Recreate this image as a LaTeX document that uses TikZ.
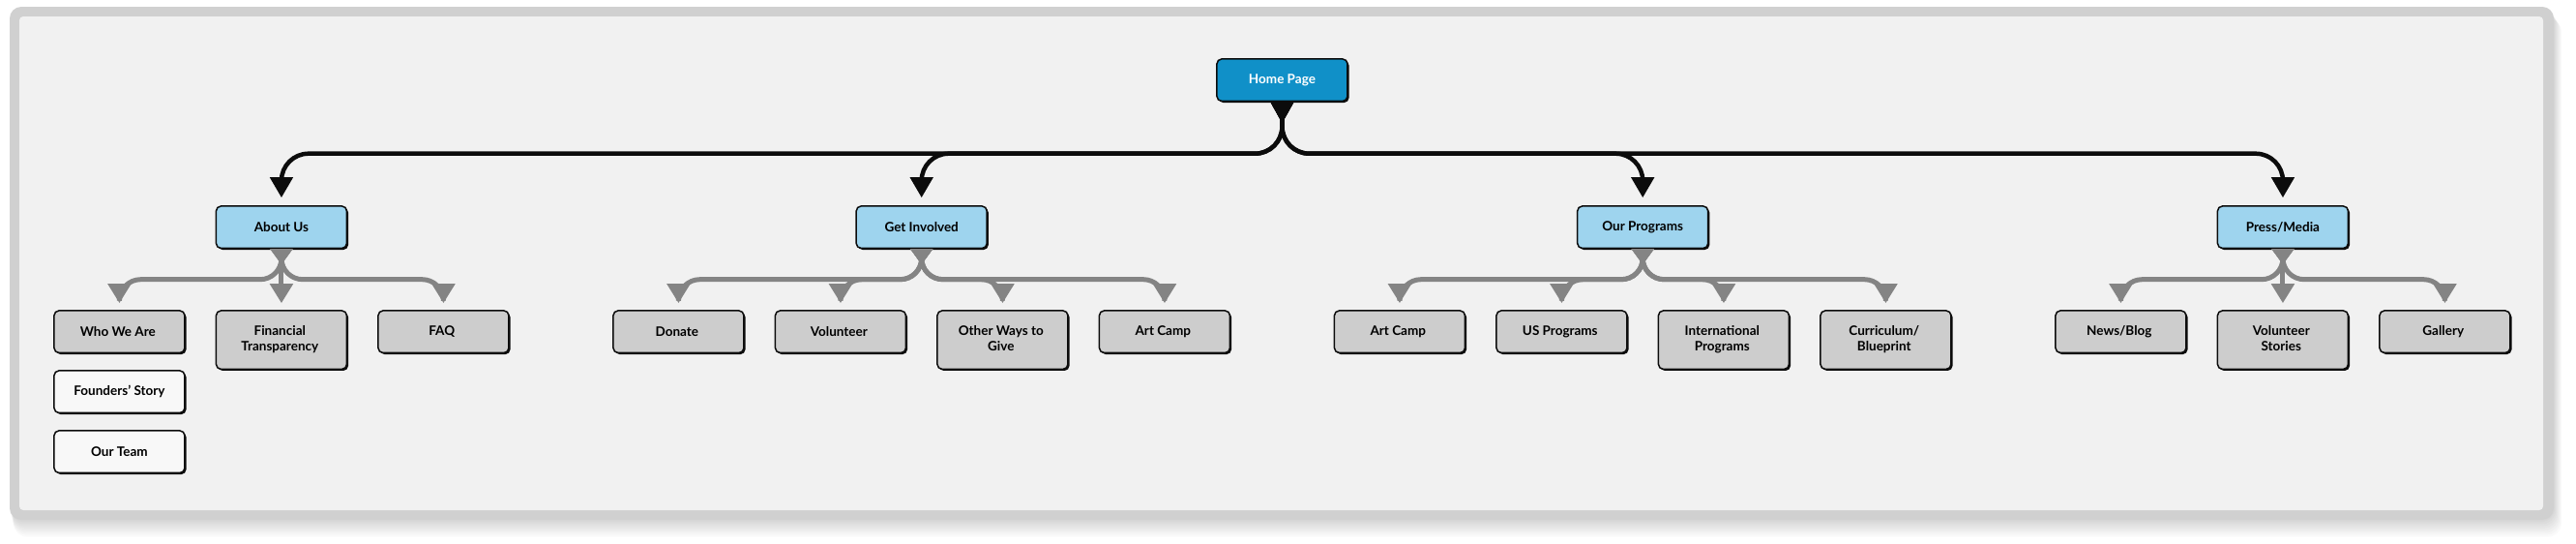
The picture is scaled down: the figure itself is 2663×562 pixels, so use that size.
\documentclass[tikz,border=0pt]{standalone}
\usepackage{fontspec}
\setmainfont{Lato}
\usetikzlibrary{matrix,arrows.meta,positioning,calc,shadows}

\definecolor{framegray}{RGB}{208,208,208}
\definecolor{paper}{RGB}{241,241,241}
\definecolor{homeblue}{RGB}{16,144,200}
\definecolor{sectionblue}{RGB}{158,212,238}
\definecolor{pagegray}{RGB}{205,205,205}
\definecolor{subpage}{RGB}{248,248,248}
\definecolor{linkgray}{RGB}{132,132,132}
\definecolor{linkblack}{RGB}{12,12,12}

\newcommand\twolines[2]{\begin{tabular}{@{}c@{}}#1\\#2\end{tabular}}

\tikzset{
  box/.style={draw=linkblack, line width=1.5pt, rounded corners=5pt, align=center,
    minimum width=135pt, minimum height=43.5pt, inner xsep=4pt, inner ysep=14.5pt,
    font=\fontsize{13.5}{15.7}\selectfont\bfseries,
    drop shadow={shadow xshift=1.6pt, shadow yshift=-1.6pt, opacity=1, fill=linkblack}},
  homebox/.style={box, fill=homeblue, text=white},
  sectionbox/.style={box, fill=sectionblue},
  pagebox/.style={box, fill=pagegray},
  subpagebox/.style={box, fill=subpage},
  tree/.style={to path={|- ($(\tikztostart)!.5!(\tikztotarget)$) -| (\tikztotarget)}},
  straight/.style={to path={-- (\tikztotarget)}},
  toplink/.style={color=linkblack, line width=4.5pt, rounded corners=28pt, shorten >=8pt,
    {Triangle[reversed,length=22pt,width=23pt]}-{Triangle[length=21pt,width=23pt]}},
  sublink/.style={color=linkgray, line width=5pt, rounded corners=22pt, shorten >=7pt,
    {Triangle[reversed,length=16pt,width=22pt]}-{Triangle[length=20pt,width=23pt]}},
}

\begin{document}
\begin{tikzpicture}[x=1pt, y=-1pt]
  \useasboundingbox (0,0) rectangle (2663,562);
  \fill[white] (0,0) rectangle (2663,562);
  \foreach \d in {1,...,8}
    \fill[black, opacity=.018, rounded corners=14pt] (10+0.5*\d,7+1.5*\d) rectangle (2640+\d,537+2.2*\d);
  \fill[framegray, rounded corners=12pt] (10,7) rectangle (2640,537);
  \fill[paper, rounded corners=4pt] (20,17) rectangle (2629,527);

  \matrix (m) [matrix of nodes, inner sep=0pt, matrix anchor=north west,
    column sep={167.5pt,between origins}, nodes={pagebox, anchor=north}] at (55,320)
  {
    Who We Are & \twolines{Financial}{Transparency} & FAQ &[75.5pt]
    Donate & Volunteer & \twolines{Other Ways to}{Give} & Art Camp &[75.5pt]
    Art Camp & US Programs & \twolines{International}{Programs} & \twolines{Curriculum/}{Blueprint} &[75.5pt]
    News/Blog & \twolines{Volunteer}{Stories} & Gallery \\
  };

  \node[sectionbox, above=63pt of m-1-2] (about) {About Us};
  \coordinate (gi) at ($(m-1-5.north)!.5!(m-1-6.north)$);
  \node[sectionbox, above=63pt of gi] (involved) {Get Involved};
  \coordinate (op) at ($(m-1-9.north)!.5!(m-1-10.north)$);
  \node[sectionbox, above=63pt of op] (programs) {Our Programs};
  \node[sectionbox, above=63pt of m-1-13] (press) {Press/Media};
  \coordinate (hp) at ($(involved.north)!.5!(programs.north)$);
  \node[homebox, above=107pt of hp] (home) {Home Page};

  \node[subpagebox, below=17pt of m-1-1] (founders) {Founders’ Story};
  \node[subpagebox, below=17pt of founders] (team) {Our Team};

  \path[toplink, tree]
  (home.south) edge (about.north) edge (involved.north)
  edge (programs.north) edge (press.north)
  ;
  \path[sublink, tree]
  (about.south) edge (m-1-1.north) edge[straight] (m-1-2.north) edge (m-1-3.north)
  (involved.south) edge (m-1-4.north) edge (m-1-5.north) edge (m-1-6.north) edge (m-1-7.north)
  (programs.south) edge (m-1-8.north) edge (m-1-9.north) edge (m-1-10.north) edge (m-1-11.north)
  (press.south) edge (m-1-12.north) edge[straight] (m-1-13.north) edge (m-1-14.north)
  ;
\end{tikzpicture}
\end{document}
